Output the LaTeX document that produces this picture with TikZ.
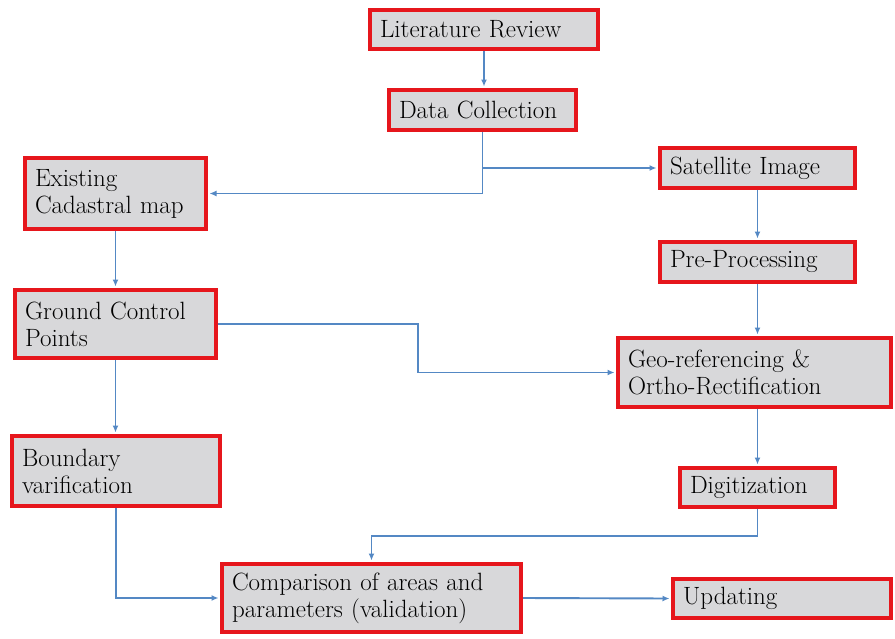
\documentclass[tikz,border=0pt]{standalone}
\usetikzlibrary{arrows.meta}
\definecolor{boxred}{RGB}{230,22,28}
\definecolor{boxfill}{RGB}{216,216,218}
\definecolor{linkblue}{RGB}{84,136,196}
\tikzset{
  box/.style={draw=boxred, line width=4pt, fill=boxfill, inner xsep=10pt, inner ysep=0pt,
    align=left, font=\fontsize{25}{27}\selectfont, text=black},
  link/.style={draw=linkblue, line width=1.9pt, -{Latex[length=7pt,width=6pt]}, shorten >=1.5pt},
  plain/.style={draw=linkblue, line width=1.9pt}
}
\newcommand{\bx}[6]{% name, cx, cy, w, h, text
  \node[box, minimum width=#4pt-4pt, minimum height=#5pt-4pt, text width=#4pt-24pt] (#1) at (#2,#3) {#6};}
\begin{document}
\begin{tikzpicture}[x=1pt,y=-1pt]
\useasboundingbox[fill=white] (0,0) rectangle (895,638);
\bx{lit}{484}{29.5}{232}{43}{Literature Review}
\bx{data}{482.5}{110}{191}{44}{Data Collection}
\bx{exist}{115.5}{193.5}{185}{75}{Existing\\Cadastral map}
\bx{sat}{757.5}{168}{199}{44}{Satellite Image}
\bx{pre}{757.5}{262}{199}{44}{Pre-Processing}
\bx{gcp}{115.5}{324}{205}{72}{Ground Control\\Points}
\bx{geo}{754.5}{372.5}{277}{73}{Geo-referencing \&\\Ortho-Rectification}
\bx{bound}{116}{471}{212}{74}{Boundary\\varification}
\bx{dig}{757.5}{487.5}{159}{43}{Digitization}
\bx{comp}{371.5}{598}{303}{72}{Comparison of areas and\\parameters (validation)}
\bx{upd}{782}{598.5}{222}{43}{Updating}
\coordinate (k1) at (418,340);
\coordinate (k2) at (600,536);
\draw[link] (lit.south) -- (lit.south |- data.north);
\draw[link] (data.south) |- (sat.west);
\draw[link] (data.south) |- (exist.east);
\draw[link] (exist.south) -- (gcp.north);
\draw[link] (gcp.east) -| (k1) |- (geo.west);
\draw[link] (sat.south) -- (pre.north);
\draw[link] (pre.south) -- (pre.south |- geo.north);
\draw[link] (dig.north |- geo.south) -- (dig.north);
\draw[link] (gcp.south) -- (gcp.south |- bound.north);
\draw[link] (bound.south) |- (comp.west);
\draw[plain] (dig.south) |- (k2);
\draw[link] (k2) -| (comp.north);
\draw[link] (comp.east) -- (upd.west);
\end{tikzpicture}
\end{document}
